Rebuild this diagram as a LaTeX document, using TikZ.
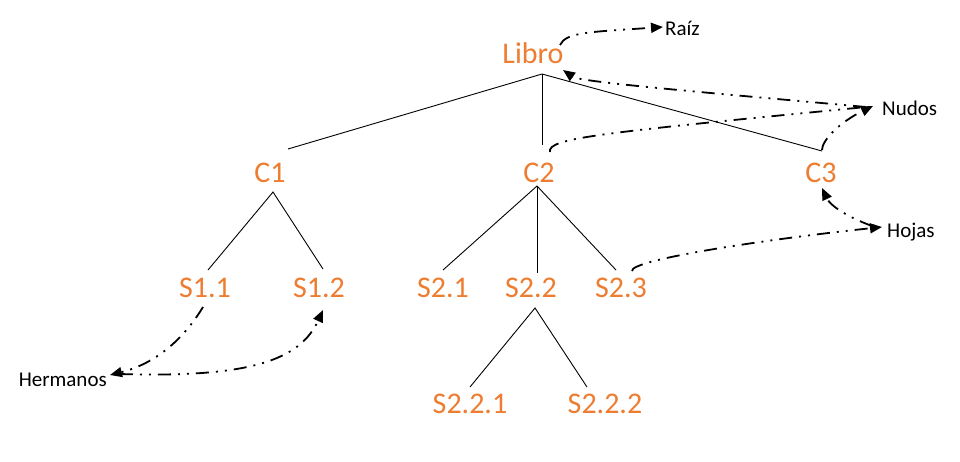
\documentclass[tikz,border=0pt]{standalone}
\usepackage{fontspec}
\setmainfont{Carlito}
\usetikzlibrary{arrows.meta}
\definecolor{ofc}{RGB}{237,125,49}
\begin{document}
\begin{tikzpicture}[x=1pt,y=-1pt,
  item/.style={text=ofc,font=\fontsize{30}{36}\selectfont,anchor=base,inner sep=0pt},
  lbl/.style={text=black,font=\fontsize{21}{25}\selectfont,anchor=base west,inner sep=0pt},
  branch/.style={line width=0.9pt},
  rel/.style={line width=1.8pt,dash pattern=on 13pt off 7pt on 2pt off 7pt on 2pt off 7pt},
  tip/.style={-{Triangle[length=12pt,width=10pt]}}]
\useasboundingbox[fill=white] (0,0) rectangle (960,461);
% texts
\node[item] (libro) at (533,63) {Libro};
\node[item] (c1) at (270,182) {C1};
\node[item] (c2) at (539,182) {C2};
\node[item] (c3) at (821,182) {C3};
\node[item] (s11) at (205,297) {S1.1};
\node[item] (s12) at (319,297) {S1.2};
\node[item] (s21) at (443,297) {S2.1};
\node[item] (s22) at (531,297) {S2.2};
\node[item] (s23) at (621,297) {S2.3};
\node[item] (s221) at (470,413) {S2.2.1};
\node[item] (s222) at (605,413) {S2.2.2};
\node[lbl] (raiz) at (665,35) {Raíz};
\node[lbl] (nudos) at (882,115) {Nudos};
\node[lbl] (hojas) at (887,237) {Hojas};
\node[lbl,anchor=base east] (herm) at (107,386) {Hermanos};
% tree anchor points
\coordinate (libroB) at (542,74);
\coordinate (c1T) at (288,149);
\coordinate (c2T) at (542,145);
\coordinate (c3T) at (822,151);
\coordinate (c1B) at (273,192);
\coordinate (s11T) at (208,270);
\coordinate (s12T) at (323,269);
\coordinate (c2B) at (537,186);
\coordinate (s21T) at (443,270);
\coordinate (s22T) at (537,273);
\coordinate (s23T) at (616,270);
\coordinate (s22B) at (535,308);
\coordinate (s221T) at (470,387);
\coordinate (s222T) at (587,387);
\draw[branch] (c1T) -- (libroB) -- (c3T);
\draw[branch] (libroB) -- (c2T);
\draw[branch] (s11T) -- (c1B) -- (s12T);
\draw[branch] (s21T) -- (c2B) -- (s23T);
\draw[branch] (c2B) -- (s22T);
\draw[branch] (s221T) -- (s22B) -- (s222T);
% relation end points
\coordinate (libroOut) at (560,45);
\coordinate (raizIn) at (663,27);
\coordinate (nudosIn) at (873,106);
\coordinate (nudosOut) at (866,107);
\coordinate (libroIn) at (563,70);
\coordinate (c2Out) at (550,152);
\coordinate (c3Out) at (822,150);
\coordinate (c3In) at (822,188);
\coordinate (hojasIn) at (882,227);
\coordinate (hojasOut) at (872,226);
\coordinate (s23Out) at (632,271);
\coordinate (s11Out) at (203,307);
\coordinate (hermIn) at (110,375);
\coordinate (hermOut) at (120,374);
\coordinate (s12In) at (323,310);
% relations
\draw[rel,tip] (libroOut) .. controls (566,32) and (590,32) .. (raizIn);
\draw[rel,tip] (nudosOut) .. controls (700,92) and (580,82) .. (libroIn);
\draw[rel] (c2Out) .. controls (547,138) and (600,133) .. (nudosOut);
\draw[rel,tip] (c3Out) .. controls (822,140) and (840,122) .. (nudosIn);
\draw[rel,tip] (hojasOut) .. controls (845,216) and (830,205) .. (c3In);
\draw[rel,tip] (s23Out) .. controls (630,260) and (760,240) .. (hojasIn);
\draw[rel,tip] (s11Out) .. controls (180,345) and (150,365) .. (hermIn);
\draw[rel,tip] (hermOut) .. controls (250,378) and (300,360) .. (s12In);
\end{tikzpicture}
\end{document}
